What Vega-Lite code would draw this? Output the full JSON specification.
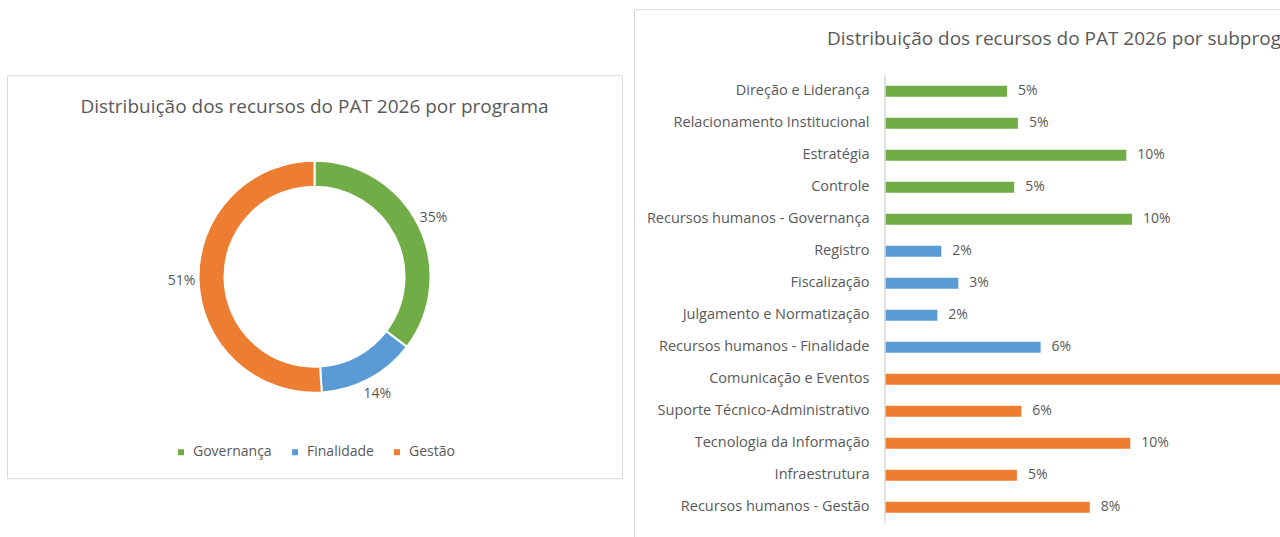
{
  "$schema": "https://vega.github.io/schema/vega-lite/v6.json",
  "padding": {"left": 6, "top": 8, "right": 0, "bottom": 0},
  "background": "white",
  "config": {
    "font": "Open Sans",
    "view": {"stroke": "#d9d9d9", "strokeWidth": 1}
  },
  "datasets": {
    "recursos": [
      {"programa": "Governança", "ordem": 1, "subprograma": "Direção e Liderança", "valor": 0.0494},
      {"programa": "Governança", "ordem": 1, "subprograma": "Relacionamento Institucional", "valor": 0.0538},
      {"programa": "Governança", "ordem": 1, "subprograma": "Estratégia", "valor": 0.0977},
      {"programa": "Governança", "ordem": 1, "subprograma": "Controle", "valor": 0.0523},
      {"programa": "Governança", "ordem": 1, "subprograma": "Recursos humanos - Governança", "valor": 0.1000},
      {"programa": "Finalidade", "ordem": 2, "subprograma": "Registro", "valor": 0.0228},
      {"programa": "Finalidade", "ordem": 2, "subprograma": "Fiscalização", "valor": 0.0297},
      {"programa": "Finalidade", "ordem": 2, "subprograma": "Julgamento e Normatização", "valor": 0.0212},
      {"programa": "Finalidade", "ordem": 2, "subprograma": "Recursos humanos - Finalidade", "valor": 0.0630},
      {"programa": "Gestão", "ordem": 3, "subprograma": "Comunicação e Eventos", "valor": 0.2190},
      {"programa": "Gestão", "ordem": 3, "subprograma": "Suporte Técnico-Administrativo", "valor": 0.0552},
      {"programa": "Gestão", "ordem": 3, "subprograma": "Tecnologia da Informação", "valor": 0.0993},
      {"programa": "Gestão", "ordem": 3, "subprograma": "Infraestrutura", "valor": 0.0534},
      {"programa": "Gestão", "ordem": 3, "subprograma": "Recursos humanos - Gestão", "valor": 0.0829}
    ]
  },
  "spacing": 10,
  "center": true,
  "resolve": {"scale": {"color": "independent"}},
  "hconcat": [
    {
      "width": 615,
      "height": 403,
      "view": {"stroke": "#d9d9d9", "strokeWidth": 1, "fill": "white"},
      "title": {
        "text": "Distribuição dos recursos do PAT 2026 por programa",
        "fontSize": 19, "fontWeight": "normal", "color": "#595959", "font": "Open Sans",
        "anchor": "middle", "frame": "group", "baseline": "middle", "offset": -51
      },
      "data": {"name": "recursos"},
      "transform": [
        {"aggregate": [{"op": "sum", "field": "valor", "as": "total"}], "groupby": ["programa", "ordem"]}
      ],
      "encoding": {
        "theta": {"field": "total", "type": "quantitative", "stack": true},
        "order": {"field": "ordem", "type": "quantitative"}
      },
      "layer": [
        {
          "mark": {"type": "arc", "innerRadius": 90, "outerRadius": 116, "stroke": "white", "strokeWidth": 2},
          "encoding": {
            "color": {
              "field": "programa", "type": "nominal",
              "scale": {"domain": ["Governança", "Finalidade", "Gestão"], "range": ["#70AD47", "#5B9BD5", "#ED7D31"]},
              "legend": {
                "orient": "none", "legendX": 167, "legendY": 370, "direction": "horizontal",
                "title": null, "symbolType": "square", "symbolSize": 36, "symbolStrokeWidth": 0,
                "labelFontSize": 14, "labelColor": "#595959", "labelFont": "Open Sans",
                "columnPadding": 16, "labelOffset": 5
              }
            }
          }
        },
        {
          "mark": {"type": "text", "radius": 133, "fontSize": 14, "color": "#595959", "align": "center", "baseline": "middle"},
          "encoding": {
            "detail": {"field": "programa", "type": "nominal"},
            "text": {"field": "total", "type": "quantitative", "format": ".0%"}
          }
        }
      ]
    },
    {
      "width": 760,
      "height": 535,
      "title": {
        "text": "Distribuição dos recursos do PAT 2026 por subprograma",
        "fontSize": 19, "fontWeight": "normal", "color": "#595959", "font": "Open Sans",
        "anchor": "start", "frame": "group", "baseline": "middle", "offset": -49, "dx": 193
      },
      "data": {"name": "recursos"},
      "encoding": {
        "y": {
          "field": "subprograma", "type": "nominal", "sort": null,
          "scale": {"paddingInner": 0, "paddingOuter": 0, "range": [66, 514]},
          "axis": {
            "title": null, "offset": -251, "domain": false, "ticks": false, "tickSize": 0,
            "labelPadding": 16, "labelFontSize": 14.5, "labelColor": "#595959", "labelFont": "Open Sans", "labelLimit": 400
          }
        }
      },
      "layer": [
        {
          "mark": {"type": "bar", "size": 11},
          "encoding": {
            "x": {
              "field": "valor", "type": "quantitative",
              "scale": {"domain": [-0.10162, 0.20607], "nice": false, "zero": false},
              "axis": null
            },
            "color": {
              "field": "programa", "type": "nominal",
              "scale": {"domain": ["Governança", "Finalidade", "Gestão"], "range": ["#70AD47", "#5B9BD5", "#ED7D31"]},
              "legend": null
            }
          }
        },
        {
          "mark": {"type": "text", "align": "left", "baseline": "middle", "dx": 11, "fontSize": 14, "color": "#595959"},
          "encoding": {
            "x": {"field": "valor", "type": "quantitative"},
            "text": {"field": "valor", "type": "quantitative", "format": ".0%"}
          }
        },
        {
          "mark": {"type": "bar", "fillOpacity": 0, "stroke": "#d9d9d9", "strokeWidth": 1},
          "encoding": {
            "x": {"datum": 0},
            "x2": {"datum": 0}
          }
        }
      ]
    }
  ]
}
